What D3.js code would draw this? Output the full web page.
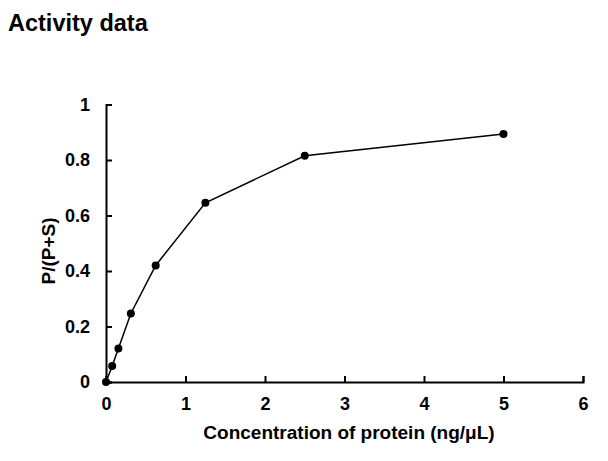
<!DOCTYPE html>
<html><head><meta charset="utf-8">
<script src="https://cdn.jsdelivr.net/npm/d3@7"></script>
<style>body{margin:0;background:#fff}text{font-family:"Liberation Sans",Arial,sans-serif;font-weight:bold;fill:#000}</style>
</head><body><svg id="c" width="608" height="461"></svg>
<script>
const concentrations = [0, 0.078, 0.156, 0.3125, 0.625, 1.25, 2.5, 5];
const ratios = [0, 0.058, 0.121, 0.247, 0.42, 0.646, 0.815, 0.894];
const xTicks = [0, 1, 2, 3, 4, 5, 6];
const yTicks = [0, 0.2, 0.4, 0.6, 0.8, 1];

const svg = d3.select("#c");
const x = d3.scaleLinear().domain([0, 6]).range([106, 583]);
const y = d3.scaleLinear().domain([0, 1]).range([382, 104.5]);

svg.append("text").attr("x", 8).attr("y", 31).attr("font-size", 23.5).text("Activity data");

const xa = svg.append("g").attr("transform", "translate(0,382)")
  .call(d3.axisBottom(x).tickValues(xTicks).tickSizeInner(-6).tickSizeOuter(-6).tickPadding(15).tickFormat(d3.format("d")));
const ya = svg.append("g").attr("transform", "translate(106,0)")
  .call(d3.axisLeft(y).tickValues(yTicks).tickSizeInner(-6).tickSizeOuter(-6).tickPadding(16).tickFormat(d => d === 0 || d === 1 ? String(d) : d.toFixed(1)));
[xa, ya].forEach(g => {
  g.selectAll("path,line").attr("stroke", "#000").attr("stroke-width", 2);
  g.selectAll("text").attr("font-size", 18).attr("font-family", "Liberation Sans, Arial, sans-serif").attr("font-weight", "bold").attr("fill", "#000");
});

svg.append("text").attr("x", 349).attr("y", 439).attr("text-anchor", "middle").attr("font-size", 19).text("Concentration of protein (ng/μL)");
svg.append("text").attr("transform", "translate(55,251) rotate(-90)").attr("text-anchor", "middle").attr("font-size", 19).text("P/(P+S)");

const pts = concentrations.map((c, i) => [c, ratios[i]]);
svg.append("path").datum(pts).attr("fill", "none").attr("stroke", "#000").attr("stroke-width", 1.5)
  .attr("d", d3.line().x(d => x(d[0])).y(d => y(d[1])));
svg.selectAll("circle.p").data(pts).enter().append("circle").attr("class", "p")
  .attr("cx", d => x(d[0])).attr("cy", d => y(d[1])).attr("r", 4).attr("fill", "#000");
</script></body></html>
